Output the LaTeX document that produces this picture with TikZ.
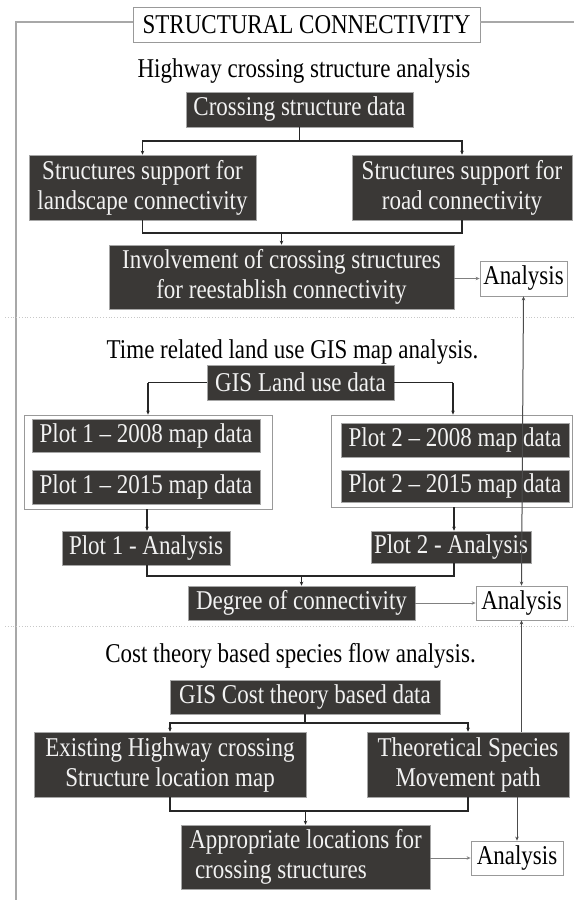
\documentclass[tikz,border=0pt]{standalone}
\usepackage{fontspec}
\usepackage{graphicx}
\setmainfont{Liberation Serif}
\usetikzlibrary{arrows.meta}
\newcommand{\sy}[1]{\scalebox{1}[1.18]{#1}}
\definecolor{boxfill}{HTML}{3A3836}
\definecolor{boxtext}{HTML}{F2F2F2}
\definecolor{framegray}{HTML}{A8A8A8}
\definecolor{sepgray}{HTML}{C8C8C8}
\tikzset{
 base/.style={font=\fontsize{23}{30}\selectfont, inner sep=0pt, align=center},
 dbox/.style={base, fill=boxfill, draw=gray!70, line width=0.6pt, text=boxtext},
 wbox/.style={base, fill=white, draw=gray!80, line width=0.8pt, text=black},
 grp/.style={draw=gray!80, line width=0.8pt, inner sep=0pt},
 conn/.style={draw=black!85, line width=1.1pt},
 tip/.style={-{Stealth[length=4pt,width=3.5pt]}},
 aconn/.style={draw=gray, line width=0.7pt, -{Stealth[length=4pt,width=3.5pt]}},
 vconn/.style={draw=black!70, line width=1pt},
 heading/.style={base, text=black},
 sepline/.style={draw=sepgray, dotted, line width=0.8pt},
 frameline/.style={draw=framegray, line width=1.2pt},
}
\begin{document}
\begin{tikzpicture}[x=1pt,y=-1pt]
\useasboundingbox (0,0) rectangle (574,900);
\fill[white] (0,0) rectangle (574,900);

% title and frame
\node[wbox, minimum width=347, minimum height=35] (title) at (306.5,24.5) {\sy{STRUCTURAL CONNECTIVITY}};
\coordinate (fl) at (16,22);
\coordinate (fb) at (16,900);
\coordinate (fr) at (574,22);
\draw[frameline] (fb) -- (fl) -- (fl -| title.west);
\draw[frameline] (fr -| title.east) -- (fr);

% separators
\coordinate (s1a) at (5,317); \coordinate (s1b) at (574,317);
\coordinate (s2a) at (5,626); \coordinate (s2b) at (574,626);
\draw[sepline] (s1a) -- (s1b);
\draw[sepline] (s2a) -- (s2b);

% section 1
\node[heading] (h1) at (304,71) {\sy{Highway crossing structure analysis}};
\node[dbox, minimum width=227, minimum height=35] (A) at (299.5,109.5) {\sy{Crossing structure data}};
\node[dbox, minimum width=227, minimum height=65] (B1) at (142.5,187.5) {\sy{Structures support for}\\\sy{landscape connectivity}};
\node[dbox, minimum width=220, minimum height=65] (B2) at (462,187.5) {\sy{Structures support for}\\\sy{road connectivity}};
\node[dbox, minimum width=345, minimum height=64] (Inv) at (281.5,277) {\sy{Involvement of crossing structures}\\\sy{for reestablish connectivity}};
\node[wbox, minimum width=87, minimum height=35] (An1) at (523.5,278.5) {\sy{Analysis}};

\coordinate (j1) at (299.5,141);
\draw[conn] (A.south) -- (j1);
\draw[conn,tip] (j1) -| (B1.north);
\draw[conn,tip] (j1) -| (B2.north);
\coordinate (j2) at (281.5,233);
\draw[conn] (B1.south) |- (j2);
\draw[conn] (B2.south) |- (j2);
\draw[conn,tip] (j2) -- (Inv.north);
\draw[aconn] (Inv.east |- An1.west) -- (An1.west);

% section 2
\node[heading] (h2) at (292.5,352) {\sy{Time related land use GIS map analysis.}};
\node[dbox, minimum width=187, minimum height=35] (G1) at (300.5,382.5) {\sy{GIS Land use data}};
\node[grp, minimum width=248, minimum height=94] (GL) at (148,462) {};
\node[grp, minimum width=241, minimum height=92] (GR) at (451.5,461) {};
\node[dbox, minimum width=228, minimum height=33] (P1a) at (146,435.5) {\sy{Plot 1 – 2008 map data}};
\node[dbox, minimum width=228, minimum height=34] (P1b) at (146,487) {\sy{Plot 1 – 2015 map data}};
\node[dbox, minimum width=228, minimum height=34] (P2a) at (455,440) {\sy{Plot 2 – 2008 map data}};
\node[dbox, minimum width=228, minimum height=32] (P2b) at (455,486) {\sy{Plot 2 – 2015 map data}};
\node[dbox, minimum width=168, minimum height=34] (P1n) at (146,548) {\sy{Plot 1 - Analysis}};
\node[dbox, minimum width=160, minimum height=32] (P2n) at (451,547) {\sy{Plot 2 - Analysis}};
\node[dbox, minimum width=227, minimum height=34] (D) at (301.5,603) {\sy{Degree of connectivity}};
\node[wbox, minimum width=91, minimum height=34] (An2) at (521.5,603) {\sy{Analysis}};

\coordinate (gl) at (148,382.5);
\coordinate (gr) at (453,382.5);
\draw[conn] (G1.west) -- (gl);
\draw[conn,tip] (gl) -- (gl |- GL.north);
\draw[conn] (G1.east) -- (gr);
\draw[conn,tip] (gr) -- (gr |- GR.north);
\coordinate (ql) at (147,509);
\coordinate (qr) at (454,507);
\draw[conn,tip] (ql) -- (ql |- P1n.north);
\draw[conn,tip] (qr) -- (qr |- P2n.north);
\coordinate (j3) at (301.5,576);
\coordinate (j3l) at (147,576);
\coordinate (j3r) at (454,576);
\draw[conn] (j3l |- P1n.south) -- (j3l) -- (j3r) -- (j3r |- P2n.south);
\draw[conn,tip] (j3) -- (D.north);
\draw[aconn] (D.east) -- (An2.west);

% section 3
\node[heading] (h3) at (290.5,656) {\sy{Cost theory based species flow analysis.}};
\node[dbox, minimum width=270, minimum height=34] (G2) at (305,697) {\sy{GIS Cost theory based data}};
\node[dbox, minimum width=272, minimum height=65] (Ex) at (170,764.5) {\sy{Existing Highway crossing}\\\sy{Structure location map}};
\node[dbox, minimum width=202, minimum height=65] (Th) at (468,764.5) {\sy{Theoretical Species}\\\sy{Movement path}};
\node[dbox, minimum width=249, minimum height=64, align=left] (Ap) at (305.5,857) {\sy{Appropriate locations for}\\\sy{\ crossing structures}};
\node[wbox, minimum width=92, minimum height=34] (An3) at (517,858) {\sy{Analysis}};

\coordinate (j4) at (305,723);
\draw[conn] (G2.south) -- (j4);
\draw[conn,tip] (j4) -| (Ex.north);
\draw[conn,tip] (j4) -| (Th.north);
\coordinate (j5) at (305.5,811);
\draw[conn] (Ex.south) |- (j5);
\draw[conn] (Th.south) |- (j5);
\draw[conn,tip] (j5) -- (Ap.north);
\draw[aconn] (Ap.east |- An3.west) -- (An3.west);

% right vertical connectors
\draw[vconn,{Stealth[length=4pt,width=3.5pt]}-{Stealth[length=4pt,width=3.5pt]}] (An2.north) -- (An1.south);
\draw[vconn,tip] (Th.north -| An2.south) -- (An2.south);
\draw[vconn,tip] (Th.south -| An3.north) -- (An3.north);
\end{tikzpicture}
\end{document}
